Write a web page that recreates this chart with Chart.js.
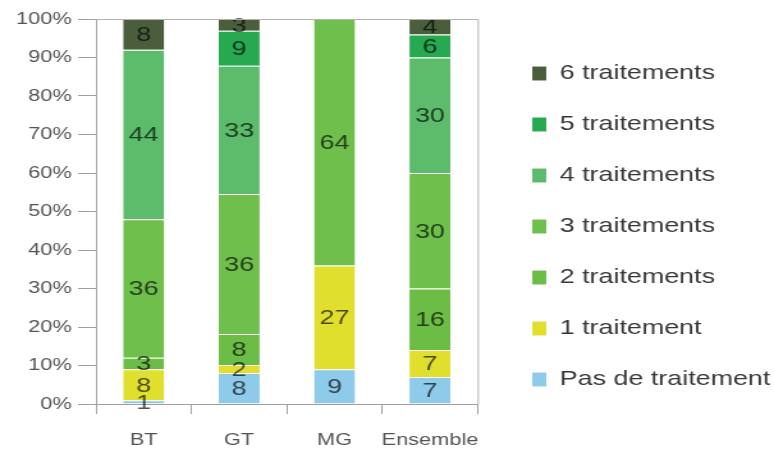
<!DOCTYPE html>
<html><head><meta charset="utf-8">
<script src="https://cdn.jsdelivr.net/npm/chart.js@4.4.1/dist/chart.umd.min.js"></script>
<style>
html,body{margin:0;padding:0;background:#fff;overflow:hidden;}
#wrap{width:605px;height:453px;transform:scaleX(1.2793);transform-origin:0 0;}
canvas{display:block;}
</style></head><body>
<div id="wrap"><canvas id="c" width="605" height="453"></canvas></div>
<script>
// ---- data ----
const categories = ['BT', 'GT', 'MG', 'Ensemble'];
const seriesNames = ['Pas de traitement', '1 traitement', '2 traitements', '3 traitements', '4 traitements', '5 traitements', '6 traitements'];
const pasDeTraitement   = [1, 8, 9, 7];
const unTraitement      = [8, 2, 27, 7];
const deuxTraitements   = [3, 8, 0, 16];
const troisTraitements  = [36, 36, 64, 30];
const quatreTraitements = [44, 33, 0, 30];
const cinqTraitements   = [0, 9, 0, 6];
const sixTraitements    = [8, 3, 0, 4];
const yTicks = [0, 10, 20, 30, 40, 50, 60, 70, 80, 90, 100];

const seriesValues = [pasDeTraitement, unTraitement, deuxTraitements, troisTraitements, quatreTraitements, cinqTraitements, sixTraitements];
const seriesColors = ['#8ecae9', '#e0df2e', '#6bbd46', '#6fbf4d', '#5cbc6b', '#26a950', '#4a5e3c'];

// 100% stacked: share of each category total
const totals = categories.map((_, j) => seriesValues.reduce((s, arr) => s + arr[j], 0));

const datasets = seriesValues.map((arr, i) => ({
  label: seriesNames[i],
  data: arr.map((v, j) => v / totals[j] * 100),
  rawValues: arr,
  backgroundColor: seriesColors[i],
  borderColor: 'rgba(255,255,255,0.28)',
  borderWidth: {top: 1, left: 0, right: 0, bottom: 0},
  borderSkipped: false,
  categoryPercentage: 1,
  barPercentage: 0.43
}));

const PLOT_LEFT = 75, PLOT_RIGHT = 373.4, PLOT_TOP = 19, PLOT_BOTTOM = 404, LEGEND_GAP = 12.6;

const valueLabels = {
  id: 'valueLabels',
  afterDatasetsDraw(chart) {
    const ctx = chart.ctx;
    ctx.save();
    ctx.font = '21px "Liberation Sans", Arial, sans-serif';
    ctx.fillStyle = 'rgba(0,0,0,0.68)';
    ctx.textAlign = 'center';
    ctx.textBaseline = 'middle';
    chart.data.datasets.forEach((ds, i) => {
      const meta = chart.getDatasetMeta(i);
      meta.data.forEach((bar, j) => {
        const v = ds.rawValues[j];
        if (!v) return;
        const p = bar.getProps(['x', 'y', 'base'], true);
        ctx.fillText(String(v), p.x, (p.y + p.base) / 2 + 1);
      });
    });
    ctx.restore();
  }
};

const frame = {
  id: 'frame',
  afterDraw(chart) {
    const a = chart.chartArea, ctx = chart.ctx;
    ctx.save();
    ctx.strokeStyle = '#b4b4b4';
    ctx.lineWidth = 1;
    ctx.beginPath();
    ctx.moveTo(a.left, a.top + 0.5);
    ctx.lineTo(a.right + 0.5, a.top + 0.5);
    ctx.lineTo(a.right + 0.5, a.bottom);
    ctx.stroke();
    ctx.restore();
  }
};

const legendShift = {
  id: 'legendShift',
  afterLayout(chart) {
    const lg = chart.legend;
    if (!lg) return;
    const dx = chart.chartArea.right + LEGEND_GAP - lg.left;
    lg.left += dx; lg.right += dx;
  }
};

Chart.defaults.font.family = '"Liberation Sans", Arial, sans-serif';

new Chart(document.getElementById('c'), {
  type: 'bar',
  data: { labels: categories, datasets },
  options: {
    responsive: false,
    animation: false,
    devicePixelRatio: 1,
    layout: { padding: 0 },
    plugins: {
      tooltip: { enabled: false },
      legend: {
        position: 'right',
        reverse: true,
        maxWidth: 300,
        labels: {
          boxWidth: 11,
          boxHeight: 14,
          padding: 30,
          color: '#383838',
          font: { size: 21 }
        }
      }
    },
    scales: {
      x: {
        stacked: true,
        grid: { drawOnChartArea: false, drawTicks: true, tickLength: 10, color: '#a0a0a0', offset: true },
        border: { color: '#a0a0a0' },
        ticks: { color: '#555', font: { size: 17 }, padding: 16, maxRotation: 0, minRotation: 0, autoSkip: false },
        afterFit(s) { s.height = 453 - PLOT_BOTTOM; s.paddingRight = 605 - PLOT_RIGHT; }
      },
      y: {
        stacked: true,
        min: 0, max: 100,
        afterBuildTicks(s) { s.ticks = yTicks.map(v => ({ value: v })); },
        grid: { drawOnChartArea: false, drawTicks: true, tickLength: 14, color: '#a0a0a0' },
        border: { color: '#a0a0a0' },
        ticks: { color: '#555', font: { size: 17 }, padding: 5, callback: v => v + '%' },
        afterFit(s) { s.width = PLOT_LEFT; s.paddingTop = PLOT_TOP; }
      }
    }
  },
  plugins: [valueLabels, frame, legendShift]
});
</script>
</body></html>
